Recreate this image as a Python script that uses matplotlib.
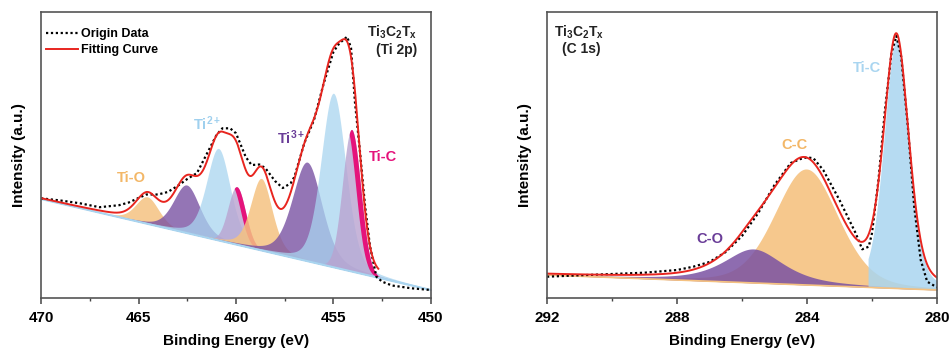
import numpy as np
import matplotlib
matplotlib.use('Agg')
import matplotlib.pyplot as plt
from matplotlib.lines import Line2D

plt.rcParams['font.family'] = ['Liberation Sans', 'DejaVu Sans']
plt.rcParams['font.weight'] = 'bold'
plt.rcParams['mathtext.fontset'] = 'custom'
plt.rcParams['mathtext.rm'] = 'Liberation Sans:bold'
plt.rcParams['mathtext.bf'] = 'Liberation Sans:bold'
plt.rcParams['mathtext.default'] = 'rm'

# ---- Ti 2p data ----
ti_energy = [470.0, 469.0, 468.0, 467.0, 466.0, 465.5, 465.0, 464.6, 464.0, 463.5,
             463.0, 462.5, 462.0, 461.5, 461.0, 460.7, 460.3, 460.0, 459.5, 459.2,
             458.8, 458.5, 458.0, 457.6, 457.2, 457.0, 456.5, 456.0, 455.5, 455.0,
             454.7, 454.3, 454.1, 453.9, 453.64, 453.38, 453.13, 452.8, 452.5, 452.0,
             451.0, 450.0]
ti_counts = [99.7, 97.5, 94.7, 90.8, 92.8, 95.5, 100.0, 103.5, 103.5, 106.0,
             112.0, 119.0, 125.0, 144.0, 163.0, 169.7, 169.7, 164.7, 141.0, 133.0,
             133.5, 130.0, 117.0, 110.0, 114.7, 121.3, 154.7, 178.0, 214.7, 246.3,
             254.7, 261.3, 250.0, 196.0, 146.0, 92.0, 52.0, 21.3, 16.3, 12.5,
             9.7, 8.0]
ti_bg = [99.0, 8.0]          # background at 470 and 450 eV
ti_center = [464.55, 462.53, 460.90, 459.96, 458.70, 456.35, 455.00, 454.07]
ti_height = [27, 48, 92, 58, 72, 99, 174, 142]
ti_fwhm = [1.4, 1.6, 1.45, 1.05, 1.3, 1.8, 1.5, 1.1]
ti_eta = [0.3, 0.35, 0.35, 0.0, 0.35, 0.35, 0.25, 0.0]
ti_kind = ['O', '3+', '2+', 'C', 'O', '3+', '2+', 'C']

# ---- C 1s data ----
c_energy = [292.0, 291.0, 290.0, 289.0, 288.0, 287.5, 287.0, 286.5, 286.0, 285.5,
            285.0, 284.5, 284.2, 284.0, 283.8, 283.5, 283.0, 282.5, 282.3, 282.1,
            282.0, 281.8, 281.6, 281.4, 281.25, 281.1, 280.9, 280.7, 280.5, 280.3,
            280.0]
c_counts = [21.3, 22.7, 24.0, 25.3, 28.0, 31.3, 36.0, 46.0, 62.0, 85.0,
            113.0, 135.0, 139.0, 140.7, 139.7, 128.0, 98.0, 64.7, 48.7, 51.3,
            64.7, 118.0, 188.0, 244.7, 262.0, 241.3, 173.0, 91.3, 38.0, 16.3,
            10.7]
c_bg = [23.0, 8.0]           # background at 292 and 280 eV
c_center = [284.02, 285.65, 281.25]
c_height = [116, 34, 248]
c_fwhm = [2.3, 2.2, 0.9]
c_eta = [0.25, 0.7, 0.3]
c_kind = ['CC', 'CO', 'TiC']

colors = {'O': '#f5c281', '3+': '#7a52a3', '2+': '#a9d5f0', 'C': '#b9a3d0',
          'CC': '#f5c281', 'CO': '#7a52a3', 'TiC': '#a9d5f0'}
alphas = {'O': 0.85, '3+': 0.8, '2+': 0.75, 'C': 0.8,
          'CC': 0.9, 'CO': 0.85, 'TiC': 0.85}
pink = '#e5137b'
red = '#e8251f'


def pv(e, c, h, fwhm, eta):
    r = (e - c) / (fwhm / 2)
    return h * ((1 - eta) * np.exp(-np.log(2) * r ** 2) + eta / (1 + r ** 2))


def style(ax, lo, hi, major, minor):
    ax.set_xlim(lo, hi)
    ax.set_ylim(0, 286)
    ax.set_xticks(major)
    ax.set_xticks(minor, minor=True)
    ax.set_yticks([])
    ax.tick_params(axis='x', which='major', direction='out', length=4, width=1.1,
                   labelsize=11, color='#444444', pad=5)
    ax.tick_params(axis='x', which='minor', direction='out', length=2.5, width=1.0,
                   color='#444444')
    for s in ax.spines.values():
        s.set_color('#555555')
        s.set_linewidth(1.2)
    for t in ax.get_xticklabels():
        t.set_fontweight('bold')
    ax.set_xlabel('Binding Energy (eV)', fontsize=11, fontweight='bold', labelpad=7)
    ax.set_ylabel('Intensity (a.u.)', fontsize=11, fontweight='bold', labelpad=10.5)


fig = plt.figure(figsize=(9.52, 3.52), dpi=100)
ax1 = fig.add_axes([0.0431, 0.1534, 0.4096, 0.8125])
ax2 = fig.add_axes([0.5746, 0.1534, 0.4096, 0.8125])

# left panel
e1 = np.linspace(450, 470, 1601)
b1 = ti_bg[1] + (ti_bg[0] - ti_bg[1]) * (e1 - 450) / 20
fit1 = b1.copy()
for c, h, w, eta, k in zip(ti_center, ti_height, ti_fwhm, ti_eta, ti_kind):
    p = pv(e1, c, h, w, eta)
    fit1 += p
    ax1.fill_between(e1, b1, b1 + p, color=colors[k], alpha=alphas[k], lw=0)
    if k == 'C':
        ps = pv(e1, c + 0.26, h, w, eta)
        ax1.fill_between(e1, b1 + ps, b1 + p, where=p > ps, color=pink, lw=0)
ax1.plot(e1, b1, color='#a9d5f0', lw=1.5)
ax1.plot(ti_energy, ti_counts, color='black', lw=1.6, ls=(0, (1, 1.2)))
shown = e1 >= 452.7
ax1.plot(e1[shown], fit1[shown], color=red, lw=1.4)
style(ax1, 470, 450, [470, 465, 460, 455, 450], [467.5, 462.5, 457.5, 452.5])

ax1.text(465.35, 119.7, 'Ti-O', color='#f3b767', fontsize=10.5, ha='center', va='center')
ax1.text(461.45, 174.7, 'Ti$^{2+}$', color='#9fd0ee', fontsize=10.5, ha='center', va='center')
ax1.text(457.15, 160, 'Ti$^{3+}$', color='#6a3d98', fontsize=10.5, ha='center', va='center')
ax1.text(452.48, 141.3, 'Ti-C', color=pink, fontsize=10.5, ha='center', va='center')
ax1.text(450.7, 266, 'Ti$_3$C$_2$T$_x$', color='#222222', fontsize=10, ha='right', va='center')
ax1.text(450.7, 248, '(Ti 2p)', color='#222222', fontsize=10, ha='right', va='center')

handles = [Line2D([], [], color='black', lw=1.6, ls=(0, (1, 1.2))),
           Line2D([], [], color=red, lw=1.4)]
ax1.legend(handles, ['Origin Data', 'Fitting Curve'], loc='upper left',
           bbox_to_anchor=(0.007, 0.953), frameon=False,
           handlelength=2.5, handletextpad=0.3, labelspacing=0.35,
           borderaxespad=0, borderpad=0.2, prop={'weight': 'bold', 'size': 9})

# right panel
e2 = np.linspace(280, 292, 1201)
b2 = c_bg[1] + (c_bg[0] - c_bg[1]) * (e2 - 280) / 12
fit2 = b2.copy()
for c, h, w, eta, k in zip(c_center, c_height, c_fwhm, c_eta, c_kind):
    p = pv(e2, c, h, w, eta)
    fit2 += p
    keep = e2 <= 282.12 if k == 'TiC' else e2 > 0
    ax2.fill_between(e2, b2, b2 + p, where=keep, color=colors[k], alpha=alphas[k], lw=0)
ax2.plot(e2, b2, color='#f5c281', lw=1.2)
ax2.plot(c_energy, c_counts, color='black', lw=1.6, ls=(0, (1, 1.2)))
ax2.plot(e2, fit2, color=red, lw=1.4)
style(ax2, 292, 280, [292, 288, 284, 280], [290, 286, 282])

ax2.text(291.0, 266, 'Ti$_3$C$_2$T$_x$', color='#222222', fontsize=10, ha='center', va='center')
ax2.text(290.95, 249.5, '(C 1s)', color='#222222', fontsize=10, ha='center', va='center')
ax2.text(282.16, 229.7, 'Ti-C', color='#a9d5f0', fontsize=10.5, ha='center', va='center')
ax2.text(284.37, 153, 'C-C', color='#f3b767', fontsize=10.5, ha='center', va='center')
ax2.text(286.98, 59, 'C-O', color='#6a3d98', fontsize=10.5, ha='center', va='center')

fig.savefig('out.png', dpi=100)
